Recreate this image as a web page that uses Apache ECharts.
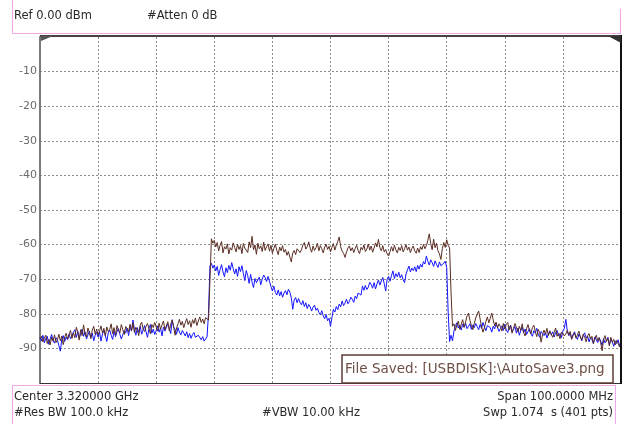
<!DOCTYPE html>
<html><head><meta charset="utf-8">
<script src="https://cdn.jsdelivr.net/npm/echarts/dist/echarts.min.js"></script>
<style>html,body{margin:0;padding:0;background:#fff}#c{width:625px;height:424px}</style>
</head><body><div id="c"></div><script>
// Trace 1 (max hold, brown) in dBm, 401 points split in segments
var brownLeft = [-87.2,-86.5,-88.1,-87.0,-86.2,-88.6,-87.4,-89.0,-86.8,-87.9,-86.1,-88.3,-87.5,-85.9,-87.8,-86.4,-88.9,-86.7,-85.6,-87.3,
-86.0,-84.8,-87.1,-85.5,-86.9,-83.9,-85.2,-87.6,-84.6,-86.3,-83.2,-85.8,-86.7,-84.1,-85.4,-87.2,-84.7,-83.6,-85.9,-84.4,
-86.1,-84.9,-83.5,-85.6,-84.2,-86.4,-83.8,-85.1,-84.5,-82.9,-85.7,-84.0,-86.2,-83.4,-84.8,-85.5,-83.1,-84.6,-86.0,-83.7,
-84.3,-85.2,-83.0,-84.9,-82.6,-85.4,-83.9,-84.7,-86.3,-83.3,-82.4,-84.5,-85.1,-83.6,-82.8,-84.2,-85.8,-83.1,-84.0,-82.5,
-83.8,-85.0,-82.7,-84.4,-83.2,-82.1,-84.6,-83.5,-82.3,-84.9,-83.0,-81.8,-83.7,-86.2,-84.1,-82.9,-81.6,-83.3,-82.2,-84.0,
-82.6,-81.4,-83.1,-82.0,-83.9,-81.7,-82.8,-81.2,-83.4,-82.1,-80.9,-82.5,-81.5,-82.9,-81.1,-80.6,-81.8];
var brownRise = [-70.5];
var brownBand = [-58.3,-59.6,-58.8,-60.7,-59.4,-61.8,-60.2,-59.1,-62.4,-60.6,-61.3,-59.8,-62.7,-60.9,-61.6,-59.5,-60.8,-62.1,-59.9,-61.4,
-60.3,-62.6,-59.7,-61.0,-60.5,-62.3,-59.2,-60.9,-57.6,-61.5,-60.1,-62.8,-59.6,-61.2,-60.4,-62.0,-59.3,-61.7,-60.6,-59.8,
-61.9,-60.2,-62.5,-61.1,-59.9,-61.6,-62.9,-60.7,-61.8,-60.3,-62.2,-61.4,-63.1,-62.0,-63.6,-65.0,-62.4,-61.7,-62.9,-61.2,
-60.8,-62.3,-61.5,-60.1,-59.4,-61.3,-60.6,-59.2,-61.0,-62.2,-60.4,-61.7,-60.9,-59.6,-61.8,-60.3,-61.2,-62.4,-60.7,-59.9,
-61.4,-60.5,-62.1,-60.8,-59.7,-61.6,-60.2,-59.1,-57.8,-60.6,-61.9,-62.5,-63.7,-62.2,-61.0,-60.4,-61.8,-60.9,-62.3,-61.1,
-60.2,-61.7,-62.6,-60.8,-61.5,-60.1,-62.0,-61.3,-59.8,-61.6,-60.4,-62.2,-61.0,-59.5,-60.7,-58.5,-60.9,-61.8,-60.3,-62.1,
-61.4,-62.7,-63.3,-62.0,-60.6,-61.9,-60.2,-61.5,-62.4,-60.8,-61.7,-60.3,-62.1,-61.2,-60.0,-61.6,-60.7,-62.3,-61.1,-60.4,
-61.8,-62.5,-61.0,-62.3,-60.6,-61.4,-59.9,-61.2,-60.3,-58.8,-56.9,-59.7,-61.5,-58.4,-60.9,-59.6,-61.8,-62.7,-64.3,-61.2,-59.4,-60.8,-58.6,-60.2,-61.0];
var brownFall = [-74.0];
var brownRight = [-83.6,-82.9,-84.8,-83.2,-82.1,-84.5,-83.0,-81.7,-83.9,-82.4,-80.6,-79.8,-81.9,-83.4,-84.6,-82.7,-81.2,-80.1,-79.2,-81.5,
-83.8,-85.3,-84.0,-82.2,-80.9,-82.6,-81.3,-79.8,-81.7,-83.5,-82.4,-84.1,-82.9,-83.7,-85.0,-82.8,-84.4,-83.1,-82.5,-84.7,
-83.4,-85.6,-84.2,-82.8,-83.9,-85.2,-83.6,-84.8,-82.9,-85.5,-86.4,-84.3,-83.1,-84.9,-85.8,-84.0,-83.3,-85.1,-86.6,-84.5,
-85.4,-88.2,-86.0,-84.7,-85.9,-84.2,-86.3,-85.1,-84.6,-86.8,-85.4,-84.1,-86.5,-85.7,-87.2,-85.3,-84.9,-86.4,-85.8,-84.8,
-86.2,-85.1,-87.4,-86.3,-85.5,-87.0,-86.1,-85.0,-86.7,-87.6,-85.9,-86.8,-88.1,-86.4,-85.7,-87.3,-86.5,-88.6,-87.0,-86.2,
-87.8,-86.9,-88.4,-90.7,-87.5,-86.3,-88.0,-87.1,-89.3,-86.8,-88.2,-87.4,-89.0,-87.7,-88.5,-89.6,-88.8];

// Trace 2 (blue) in dBm
var blueLeft = [-86.8,-87.9,-86.2,-88.4,-87.1,-86.5,-88.8,-87.3,-86.0,-87.7,-88.5,-86.9,-87.6,-89.2,-90.8,-87.4,-86.3,-88.0,-86.7,-87.5,
-85.9,-87.2,-86.4,-85.3,-84.6,-86.8,-85.1,-87.0,-85.8,-84.4,-86.5,-85.2,-87.3,-86.1,-85.0,-86.9,-85.6,-87.8,-86.2,-85.4,
-86.7,-85.3,-87.9,-85.8,-84.9,-86.4,-88.0,-85.5,-84.7,-86.2,-87.4,-85.0,-86.6,-85.2,-84.3,-85.9,-87.3,-86.0,-84.8,-85.6,
-84.1,-86.3,-83.7,-85.0,-81.8,-84.5,-86.2,-84.0,-85.4,-83.6,-85.9,-84.7,-83.4,-85.2,-86.8,-84.3,-83.1,-85.6,-84.4,-86.0,
-84.9,-83.5,-85.3,-84.1,-86.4,-83.8,-85.0,-84.6,-82.9,-84.2,-85.7,-81.7,-83.8,-84.5,-85.9,-84.0,-85.3,-86.1,-84.8,-85.6,
-86.4,-85.2,-86.9,-85.7,-87.1,-86.0,-85.4,-86.8,-87.3,-86.2,-85.8,-87.5,-86.6,-87.9,-88.2,-86.7,-80.0];
var blueRise = [-66.2];
var blueBand = [-65.4,-66.8,-65.9,-67.6,-66.3,-68.9,-67.2,-65.8,-67.9,-69.3,-66.7,-68.1,-66.0,-67.4,-65.2,-66.9,-68.5,-67.0,-69.2,-66.4,
-67.8,-66.1,-68.3,-70.4,-67.5,-69.0,-71.2,-68.6,-70.9,-72.4,-69.8,-71.0,-70.2,-69.4,-71.6,-70.0,-68.8,-69.5,-70.7,-69.2,
-70.6,-72.1,-73.4,-72.0,-73.8,-74.6,-73.1,-74.8,-73.6,-75.2,-74.0,-73.3,-74.5,-72.9,-73.7,-75.4,-78.7,-76.0,-75.3,-76.8,
-75.6,-76.7,-77.4,-76.2,-77.9,-76.8,-78.5,-77.3,-78.0,-79.2,-78.1,-77.5,-79.0,-78.4,-79.6,-80.3,-79.1,-80.6,-81.4,-80.2,
-82.0,-81.3,-83.6,-81.0,-78.7,-79.5,-77.9,-78.8,-77.2,-78.0,-76.3,-77.6,-76.9,-75.8,-77.1,-76.4,-75.2,-75.8,-76.7,-74.9,
-75.6,-74.0,-73.5,-74.6,-72.0,-73.2,-71.8,-73.0,-72.3,-70.9,-71.5,-72.6,-71.0,-72.8,-71.4,-70.2,-71.7,-70.5,-69.5,-71.3,
-73.4,-70.0,-69.2,-70.6,-68.9,-67.6,-69.8,-68.4,-69.3,-68.0,-69.6,-68.7,-70.2,-71.0,-68.5,-67.3,-66.2,-67.9,-66.8,-67.5,
-66.4,-67.8,-66.0,-67.1,-65.7,-66.5,-64.9,-65.6,-63.3,-64.8,-65.9,-64.4,-65.2,-66.3,-64.7,-65.8,-66.6,-65.0,-66.1,-66.2,-65.4,-64.8,-66.6];
var blueFall = [-79.5,-88.0];
var blueRight = [-86.2,-87.8,-85.0,-83.4,-82.6,-84.1,-83.3,-84.7,-83.0,-83.9,-82.7,-84.3,-83.6,-82.9,-84.5,-83.2,-84.0,-82.8,-83.7,-84.6,
-83.1,-84.2,-82.5,-83.8,-84.9,-83.4,-82.9,-84.0,-85.3,-83.6,-84.4,-82.8,-83.9,-85.1,-84.2,-83.5,-84.8,-83.0,-84.6,-85.4,
-84.0,-83.3,-85.2,-84.5,-83.7,-85.6,-84.1,-86.2,-84.8,-83.9,-85.5,-84.4,-86.0,-85.1,-84.3,-85.8,-86.5,-84.9,-85.6,-84.2,
-85.9,-86.8,-85.1,-84.6,-86.3,-85.4,-87.0,-85.8,-84.9,-86.1,-85.2,-86.7,-85.5,-84.8,-86.4,-85.7,-86.9,-85.0,-84.2,-81.6,
-84.8,-86.3,-85.6,-87.1,-86.0,-85.2,-86.8,-87.4,-85.9,-86.6,-87.8,-86.2,-85.5,-87.0,-86.4,-88.1,-86.9,-87.5,-88.6,-86.7,
-87.6,-88.3,-86.9,-87.9,-89.1,-87.2,-88.4,-87.7,-86.8,-88.9,-87.3,-88.1,-89.4,-87.8,-88.6,-87.5,-89.2,-88.3];

var yTicks = [-90,-80,-70,-60,-50,-40,-30,-20,-10];
var headerTexts = ['Ref 0.00 dBm', '#Atten 0 dB'];
var footerTexts = ['Center 3.320000 GHz', '#Res BW 100.0 kHz', '#VBW 10.00 kHz', 'Span 100.0000 MHz', 'Swp 1.074  s (401 pts)'];
var statusText = 'File Saved: [USBDISK]:\\AutoSave3.png';

var brown = [].concat(brownLeft, brownRise, brownBand, brownFall, brownRight);
var blue = [].concat(blueLeft, blueRise, blueBand, blueFall, blueRight);
function pts(a){ return a.map(function(v,i){ return [i, v]; }); }

var F = 'DejaVu Sans';
var pink = '#f3a8ee';
var grid = {color:'#8c8c8c', type:[2,2], width:1};
var chart = echarts.init(document.getElementById('c'), null, {renderer:'canvas'});
function txt(t,x,y,align,size,color){
  return {type:'text', z:100, style:{text:t, x:x, y:y, align:align||'left', verticalAlign:'middle', font:(size||11.5)+'px "'+F+'"', fill:color||'#2a2a2a'}};
}
function ln(x1,y1,x2,y2,c,w){
  return {type:'line', z:90, shape:{x1:x1,y1:y1,x2:x2,y2:y2}, style:{stroke:c, lineWidth:w||1}};
}
chart.setOption({
  animation:false,
  backgroundColor:'#fff',
  grid:{left:40, right:4, top:37, bottom:41},
  xAxis:{type:'value', min:0, max:400, interval:40,
    axisLine:{show:true, onZero:false, lineStyle:{color:'#333', width:1}},
    axisTick:{show:false}, axisLabel:{show:false},
    splitLine:{show:true, showMinLine:false, showMaxLine:false, lineStyle:grid}},
  yAxis:{type:'value', min:-100, max:0, interval:10,
    axisLine:{show:true, onZero:false, lineStyle:{color:'#7a7a7a', width:2}},
    axisTick:{show:false},
    axisLabel:{color:'#6a6a6a', fontFamily:F, fontSize:11, margin:3,
      formatter:function(v){ return yTicks.indexOf(v) >= 0 ? String(v) : ''; }},
    splitLine:{show:true, showMinLine:false, showMaxLine:false, lineStyle:grid}},
  series:[
    {type:'line', data:pts(blue), showSymbol:false, symbol:'none', lineStyle:{color:'#1414ff', width:1}, z:3},
    {type:'line', data:pts(brown), showSymbol:false, symbol:'none', lineStyle:{color:'#5b2e24', width:1}, z:4}
  ],
  graphic:[
    ln(12.5,0,12.5,34,pink), ln(12,33.5,621,33.5,pink), ln(620.5,9,620.5,34,pink),
    ln(12,385.5,615,385.5,pink), ln(12.5,385,12.5,424,pink), ln(615.5,385,615.5,424,pink),
    ln(40,36,622,36,'#444',2),
    ln(621,35,621,384,'#111',2),
    {type:'polygon', z:95, shape:{points:[[41,36],[53,36],[41,41]]}, style:{fill:'#555'}},
    {type:'polygon', z:95, shape:{points:[[608,36],[621,36],[621,43]]}, style:{fill:'#333'}},
    {type:'rect', z:96, shape:{x:342, y:355, width:271, height:28}, style:{fill:'#fff', stroke:'#5e3d34', lineWidth:1.5}},
    txt(statusText, 345, 369.5, 'left', 13.5, '#6e4f46'),
    txt(headerTexts[0], 14, 16.5),
    txt(headerTexts[1], 147, 16.5),
    txt(footerTexts[0], 14, 397),
    txt(footerTexts[1], 14, 413),
    txt(footerTexts[2], 262, 413),
    txt(footerTexts[3], 613, 397, 'right'),
    txt(footerTexts[4], 613, 413, 'right')
  ]
});
</script></body></html>
